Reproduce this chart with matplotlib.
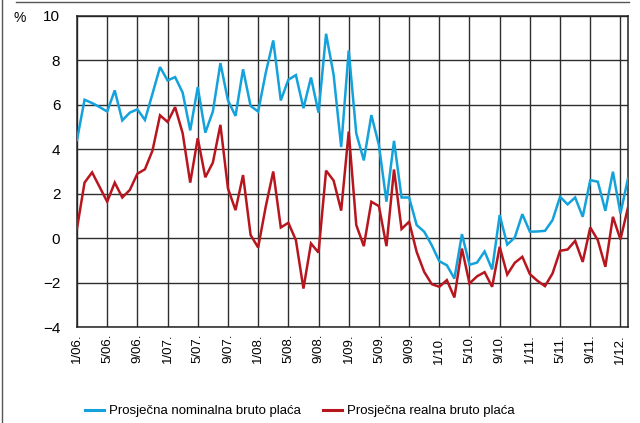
import matplotlib
matplotlib.use("Agg")
import matplotlib.pyplot as plt
from matplotlib.lines import Line2D

plt.rcParams["font.family"] = ["Liberation Sans", "DejaVu Sans"]

# monthly data, 1/06 .. 2/12
nominal = [
    4.42, 6.23, 6.08, 5.90, 5.70, 6.65, 5.30, 5.65, 5.80, 5.32,
    6.50, 7.70, 7.10, 7.25, 6.55, 4.85, 6.80, 4.75, 5.70, 7.88,
    6.20, 5.50, 7.60, 5.95, 5.70, 7.43, 8.90, 6.20, 7.13, 7.34,
    5.85, 7.23, 5.65, 9.20, 7.35, 4.10, 8.45, 4.71, 3.50, 5.54,
    4.19, 1.64, 4.38, 1.83, 1.83, 0.59, 0.29, -0.32, -1.04, -1.22,
    -1.82, 0.18, -1.20, -1.10, -0.60, -1.41, 1.04, -0.29, 0.03, 1.08,
    0.29, 0.30, 0.33, 0.81, 1.86, 1.52, 1.83, 0.96, 2.61, 2.54,
    1.23, 2.99, 1.11, 2.69,
]
real = [
    0.44, 2.50, 2.96, 2.30, 1.64, 2.50, 1.83, 2.17, 2.90, 3.10,
    3.94, 5.53, 5.23, 5.90, 4.72, 2.50, 4.50, 2.74, 3.40, 5.10,
    2.24, 1.26, 2.84, 0.14, -0.42, 1.41, 3.00, 0.48, 0.69, -0.09,
    -2.27, -0.24, -0.65, 3.04, 2.59, 1.24, 4.80, 0.59, -0.36, 1.64,
    1.44, -0.36, 3.09, 0.41, 0.74, -0.62, -1.52, -2.07, -2.19, -1.89,
    -2.67, -0.47, -2.04, -1.72, -1.53, -2.19, -0.39, -1.64, -1.11, -0.84,
    -1.62, -1.92, -2.16, -1.59, -0.57, -0.51, -0.12, -1.07, 0.48, -0.09,
    -1.29, 0.96, -0.06, 1.38,
]
tick_labels = ["1/06.", "5/06.", "9/06.", "1/07.", "5/07.", "9/07.", "1/08.",
               "5/08.", "9/08.", "1/09.", "5/09.", "9/09.", "1/10.", "5/10.",
               "9/10.", "1/11.", "5/11.", "9/11.", "1/12."]
y_ticks = [-4, -2, 0, 2, 4, 6, 8, 10]

blue = "#13a2dc"
red = "#b8161f"
grid_col = "#2e2e2e"

fig = plt.figure(figsize=(6.4, 4.23), dpi=100)
ax = fig.add_axes([77 / 640, 96 / 423, 551 / 640, 311 / 423])

x = list(range(len(nominal)))
ax.plot(x, nominal, color=blue, lw=1.8, solid_joinstyle="miter", zorder=3)
ax.plot(x, real, color=red, lw=1.8, solid_joinstyle="miter", zorder=3)

ax.set_xlim(0, len(nominal) - 1)
ax.set_ylim(-4, 10)
ax.set_yticks(y_ticks)
ax.set_yticklabels([str(v).replace("-", "\u2212") for v in y_ticks], fontsize=11)
ax.set_xticks(range(0, len(tick_labels) * 4, 4))
ax.set_xticklabels(tick_labels, rotation=90, fontsize=9.5, va="top")
ax.tick_params(length=0, pad=5)
ax.tick_params(axis="y", pad=12)

ax.grid(True, color=grid_col, lw=1.0)
ax.set_axisbelow(True)
for s in ax.spines.values():
    s.set_color("#222222")
    s.set_linewidth(1.1)

fig.text(14 / 640, 1 - 18 / 423, "%", fontsize=10, va="center", ha="left")

# frame lines at top and left
fig.add_artist(Line2D([16 / 640, 629 / 640], [1 - 2 / 423, 1 - 2 / 423],
                      color="#555555", lw=1.0, transform=fig.transFigure))
fig.add_artist(Line2D([1.5 / 640, 1.5 / 640], [0, 1], color="#555555", lw=1.0,
                      transform=fig.transFigure))

handles = [Line2D([], [], color=blue, lw=2.2), Line2D([], [], color=red, lw=2.2)]
fig.legend(handles, ["Prosječna nominalna bruto plaća", "Prosječna realna bruto plaća"],
           loc="center", bbox_to_anchor=(300 / 640, 1 - 411 / 423), ncol=2,
           frameon=False, fontsize=9.5, handlelength=1.4, handletextpad=0.4,
           columnspacing=1.7)

fig.savefig("out.png", dpi=100)
